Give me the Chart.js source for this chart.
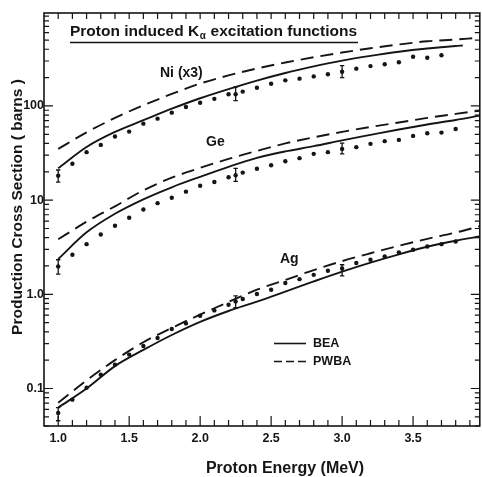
<!DOCTYPE html>
<html><head><meta charset="utf-8">
<script src="https://cdn.jsdelivr.net/npm/chart.js@4.4.0/dist/chart.umd.min.js"></script>
<style>html,body{margin:0;padding:0;background:#fff;}canvas{display:block;}</style>
</head><body>
<canvas id="c" width="482" height="477"></canvas>
<script>
// ---------- data ----------
const niPointE = [1.0,1.1,1.2,1.3,1.4,1.5,1.6,1.7,1.8,1.9,2.0,2.1,2.2,2.25,2.3,2.4,2.5,2.6,2.7,2.8,2.9,3.0,3.1,3.2,3.3,3.4,3.5,3.6,3.7];
const niPoints  = [18.2,24.3,32.3,38.6,47.3,53.4,64.9,73.3,84.9,97.6,108,119,133,133,142,156,172,187,195,206,217,231,249,265,277,291,333,325,345];
const gePointE = [1.0,1.1,1.2,1.3,1.4,1.5,1.6,1.7,1.8,1.9,2.0,2.1,2.2,2.25,2.3,2.4,2.5,2.6,2.7,2.8,2.9,3.0,3.1,3.2,3.3,3.4,3.5,3.6,3.7,3.8];
const gePoints  = [1.98,2.63,3.41,4.31,5.34,6.49,7.95,9.29,10.6,12.3,14.2,15.6,17.5,18.4,19.6,21.5,23.5,25.9,27.9,31.0,32.3,35.0,36.5,39.6,42.3,43.6,48.1,51.3,52.1,57.0];
const agPointE = gePointE;
const agPoints  = [0.0551,0.0762,0.102,0.140,0.179,0.229,0.283,0.344,0.428,0.491,0.593,0.675,0.776,0.841,0.891,1.007,1.12,1.32,1.45,1.61,1.78,1.88,2.15,2.33,2.52,2.79,2.97,3.22,3.41,3.64];

const errE   = [1.0, 2.25, 3.0];
const niErrLo = [15.5, 114, 200];
const niErrHi = [20.9, 159, 268];
const geErrLo = [1.64, 15.8, 31.0];
const geErrHi = [2.33, 21.7, 40.2];
const agErrLo = [0.0455, 0.72, 1.57];
const agErrHi = [0.0626, 0.963, 2.06];

const curveE = [1.0,1.2,1.4,1.6,1.8,2.0,2.2,2.4,2.6,2.8,3.0,3.2,3.4,3.6,3.8];
const niBEA  = [21.8,36.7,53,70.5,93.4,120.7,151,186,224,263,303,340,376,407,433];
const niPWBA = [35,52.4,74.6,101.7,134,173,211,250,289,329,369,410,449,486,507];
const geBEA  = [2.37,4.55,7.17,10.2,13.7,17.7,22.6,28.1,32.9,37.4,43.1,49.3,56.3,63.6,71];
const gePWBA = [3.84,5.9,8.6,12.7,17.3,22,27.4,33.3,40,46.4,53,59.9,66.8,74.6,82.3];
const agBEA  = [0.0628,0.1,0.173,0.257,0.37,0.51,0.665,0.837,1.07,1.37,1.74,2.17,2.66,3.2,3.71];
const agPWBA = [0.0707,0.122,0.2,0.31,0.44,0.61,0.83,1.12,1.42,1.81,2.25,2.73,3.28,3.88,4.53];
// end points of each curve (energy, value)
const niBEAEnd  = [3.85, 438];
const niPWBAEnd = [3.93, 525];
const geBEAEnd  = [3.97, 78.9];
const gePWBAEnd = [3.97, 89];
const agBEAEnd  = [3.97, 4.11];
const agPWBAEnd = [3.97, 5.28];

const xTickValues = [1.0,1.5,2.0,2.5,3.0,3.5];
const xTickLabels = ['1.0','1.5','2.0','2.5','3.0','3.5'];
const yTickValues = [0.1,1,10,100];
const yTickLabels = ['0.1','1.0','10','100'];

// ---------- helpers ----------
const INK = '#151515';
const FONT = "'Liberation Sans', Arial, sans-serif";
function pts(xs, ys){ return xs.map((x,i)=>({x:x, y:ys[i]})); }
function curve(vals, end){ return pts(curveE.concat([end[0]]), vals.concat([end[1]])); }
function lineDs(data, dashed){
  return {type:'line', data:data, borderColor:INK, borderWidth:1.9, borderDash: dashed ? [13,7] : [],
    pointRadius:0, showLine:true, fill:false, cubicInterpolationMode:'monotone'};
}
function dotDs(data){
  return {type:'scatter', data:data, backgroundColor:INK, borderWidth:0, pointRadius:2.2, pointHoverRadius:2.2};
}

const errorBars = {
  id:'errorBars',
  afterDatasetsDraw(chart){
    const {ctx, scales:{x,y}} = chart;
    ctx.save(); ctx.strokeStyle = INK; ctx.lineWidth = 1.3;
    [[niErrLo,niErrHi],[geErrLo,geErrHi],[agErrLo,agErrHi]].forEach(([lo,hi])=>{
      errE.forEach((e,i)=>{
        const px = x.getPixelForValue(e), p1 = y.getPixelForValue(lo[i]), p2 = y.getPixelForValue(hi[i]);
        ctx.beginPath();
        ctx.moveTo(px,p1); ctx.lineTo(px,p2);
        ctx.moveTo(px-2.2,p1); ctx.lineTo(px+2.2,p1);
        ctx.moveTo(px-2.2,p2); ctx.lineTo(px+2.2,p2);
        ctx.stroke();
      });
    });
    ctx.restore();
  }
};

const frame = {
  id:'frame',
  afterDraw(chart){
    const {ctx, chartArea:a, scales:{x,y}} = chart;
    ctx.save(); ctx.strokeStyle = INK;
    ctx.lineWidth = 1.6;
    ctx.strokeRect(a.left, a.top, a.right-a.left, a.bottom-a.top);
    ctx.lineWidth = 1.2;
    ctx.beginPath();
    for (let k=10;k<=39;k++){
      const px = x.getPixelForValue(k/10);
      const len = (k%5===0) ? 10 : 6;
      ctx.moveTo(px,a.bottom); ctx.lineTo(px,a.bottom-len);
      ctx.moveTo(px,a.top); ctx.lineTo(px,a.top+6);
    }
    for (let d=-2; d<=2; d++){
      for (let m=1;m<=9;m++){
        const v = m*Math.pow(10,d);
        if (v < y.min || v > y.max) continue;
        const py = y.getPixelForValue(v);
        const len = (m===1) ? 9 : 5;
        ctx.moveTo(a.left,py); ctx.lineTo(a.left+len,py);
        ctx.moveTo(a.right,py); ctx.lineTo(a.right-len,py);
      }
    }
    ctx.stroke();
    ctx.restore();
  }
};

const texts = {
  id:'texts',
  afterDraw(chart){
    const ctx = chart.ctx;
    ctx.save();
    ctx.fillStyle = INK; ctx.strokeStyle = INK;
    ctx.textBaseline = 'alphabetic'; ctx.textAlign = 'left';
    // title with subscript alpha
    ctx.font = "bold 15.5px " + FONT;
    let tx = 70; const ty = 36;
    const t1 = 'Proton induced K';
    ctx.fillText(t1, tx, ty); tx += ctx.measureText(t1).width;
    ctx.font = "bold 10px " + FONT;
    ctx.fillText('\u03b1', tx+0.5, ty+3); tx += ctx.measureText('\u03b1').width + 1;
    ctx.font = "bold 15.5px " + FONT;
    ctx.fillText(' excitation functions', tx, ty);
    ctx.lineWidth = 1.5;
    ctx.beginPath(); ctx.moveTo(70,42.5); ctx.lineTo(358,42.5); ctx.stroke();
    // curve labels
    ctx.font = "bold 14px " + FONT;
    ctx.fillText('Ni (x3)', 160, 77);
    ctx.fillText('Ge', 206, 146);
    ctx.fillText('Ag', 280, 263);
    // legend
    ctx.lineWidth = 1.6;
    ctx.beginPath(); ctx.moveTo(274,343.5); ctx.lineTo(306,343.5); ctx.stroke();
    ctx.setLineDash([8,4]);
    ctx.beginPath(); ctx.moveTo(274,361.5); ctx.lineTo(306,361.5); ctx.stroke();
    ctx.setLineDash([]);
    ctx.font = "bold 12.5px " + FONT;
    ctx.textBaseline = 'middle';
    ctx.fillText('BEA', 313, 344);
    ctx.fillText('PWBA', 313, 362);
    // axis titles
    ctx.textAlign = 'center';
    ctx.font = "bold 16px " + FONT;
    ctx.textBaseline = 'alphabetic';
    ctx.fillText('Proton Energy (MeV)', 285, 473);
    ctx.translate(22, 207);
    ctx.rotate(-Math.PI/2);
    ctx.font = "bold 15.5px " + FONT;
    ctx.fillText('Production Cross Section ( barns )', 0, 0);
    ctx.restore();
  }
};

new Chart(document.getElementById('c'), {
  type:'scatter',
  data:{ datasets:[
    lineDs(curve(niBEA, niBEAEnd), false),
    lineDs(curve(niPWBA, niPWBAEnd), true),
    lineDs(curve(geBEA, geBEAEnd), false),
    lineDs(curve(gePWBA, gePWBAEnd), true),
    lineDs(curve(agBEA, agBEAEnd), false),
    lineDs(curve(agPWBA, agPWBAEnd), true),
    dotDs(pts(niPointE, niPoints)),
    dotDs(pts(gePointE, gePoints)),
    dotDs(pts(agPointE, agPoints))
  ]},
  options:{
    responsive:false, animation:false, devicePixelRatio:1,
    layout:{padding:{top:13, right:2, left:0, bottom:0}},
    plugins:{legend:{display:false}, tooltip:{enabled:false}},
    events:[],
    scales:{
      x:{type:'linear', min:0.9, max:3.97,
         grid:{display:false, drawTicks:false}, border:{display:false},
         afterBuildTicks:s=>{ s.ticks = xTickValues.map(v=>({value:v})); },
         ticks:{callback:(v,i)=>xTickLabels[i], padding:5, color:INK, autoSkip:false, maxRotation:0,
                font:{family:FONT, size:12.5, weight:'bold'}},
         afterFit:s=>{ s.height = 51; s.paddingLeft = 0; s.paddingRight = 0; }},
      y:{type:'logarithmic', min:0.04, max:970,
         grid:{display:false, drawTicks:false}, border:{display:false},
         afterBuildTicks:s=>{ s.ticks = yTickValues.map(v=>({value:v})); },
         ticks:{callback:(v,i)=>yTickLabels[i], padding:0, color:INK, autoSkip:false,
                font:{family:FONT, size:12.5, weight:'bold'}},
         afterFit:s=>{ s.width = 44; s.paddingTop = 0; s.paddingBottom = 0; }}
    }
  },
  plugins:[errorBars, frame, texts]
});
</script>
</body></html>
